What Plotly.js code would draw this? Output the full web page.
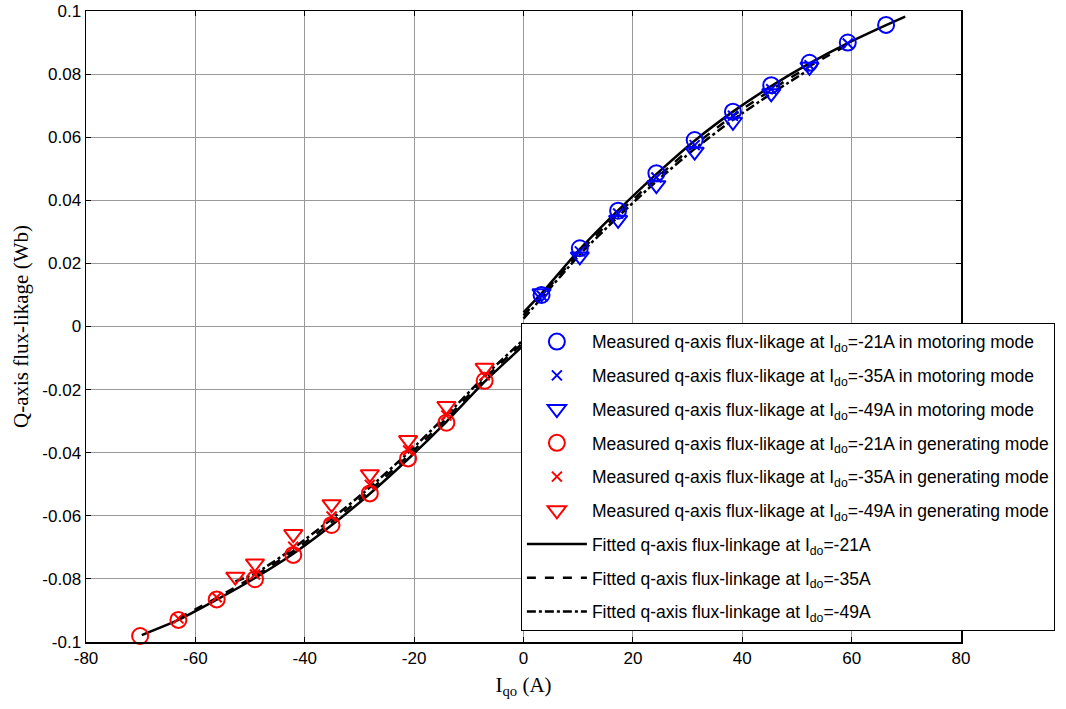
<!DOCTYPE html>
<html>
<head>
<meta charset="utf-8">
<script src="https://cdn.plot.ly/plotly-3.0.1.min.js"></script>
<style>html,body{margin:0;padding:0;background:#fff;}#chart{width:1066px;height:709px;}</style>
</head>
<body>
<div id="chart"></div>
<script>
// ---- measured data, motoring mode (Iqo > 0) ----
const motX21 = [3.3, 10.3, 17.3, 24.3, 31.3, 38.3, 45.3, 52.3, 59.3, 66.3];
const motY21 = [0.0100, 0.0248, 0.0367, 0.0486, 0.0591, 0.0681, 0.0765, 0.0836, 0.0900, 0.0956];
const motX35 = [3.3, 10.3, 17.3, 24.3, 31.3, 38.3, 45.3, 52.3, 59.3];
const motY35 = [0.0098, 0.0238, 0.0358, 0.0472, 0.0575, 0.0668, 0.0752, 0.0828, 0.0897];
const motX49 = [3.3, 10.3, 17.3, 24.3, 31.3, 38.3, 45.3, 52.3];
const motY49 = [0.0105, 0.0222, 0.0338, 0.0448, 0.0554, 0.0649, 0.0739, 0.0823];

// ---- measured data, generating mode (Iqo < 0) ----
const genX21 = [-70.1, -63.1, -56.1, -49.1, -42.1, -35.1, -28.1, -21.1, -14.1, -7.1];
const genY21 = [-0.0981, -0.0930, -0.0865, -0.0801, -0.0724, -0.0629, -0.0529, -0.0418, -0.0305, -0.0172];
const genX35 = [-63.1, -56.1, -49.1, -42.1, -35.1, -28.1, -21.1, -14.1, -7.1];
const genY35 = [-0.0925, -0.0858, -0.0786, -0.0698, -0.0602, -0.0502, -0.0393, -0.0282, -0.0155];
const genX49 = [-52.7, -49.1, -42.1, -35.1, -28.1, -21.1, -14.1, -7.1];
const genY49 = [-0.0793, -0.0751, -0.0658, -0.0563, -0.0468, -0.0360, -0.0252, -0.0131];

// ---- fitted curves ----
const fitMotX21 = [0, 3.3, 10.3, 17.3, 24.3, 31.3, 38.3, 45.3, 52.3, 59.3, 66.3, 69.8];
const fitMotY21 = [0.0045, 0.0105, 0.0245, 0.0368, 0.0483, 0.0589, 0.0681, 0.0762, 0.0834, 0.0898, 0.0955, 0.0982];
const fitGenX21 = [-69.8, -63.1, -56.1, -49.1, -42.1, -35.1, -28.1, -21.1, -14.1, -7.1, 0];
const fitGenY21 = [-0.0978, -0.0930, -0.0866, -0.0797, -0.0720, -0.0630, -0.0530, -0.0420, -0.0302, -0.0175, -0.0060];
const fitMotX35 = [0, 3.3, 10.3, 17.3, 24.3, 31.3, 38.3, 45.3, 52.3, 59.3];
const fitMotY35 = [0.0035, 0.0098, 0.0236, 0.0358, 0.0470, 0.0575, 0.0668, 0.0750, 0.0825, 0.0893];
const fitGenX35 = [-63.1, -56.1, -49.1, -42.1, -35.1, -28.1, -21.1, -14.1, -7.1, 0];
const fitGenY35 = [-0.0925, -0.0860, -0.0790, -0.0712, -0.0620, -0.0520, -0.0410, -0.0292, -0.0165, -0.0050];
const fitMotX49 = [0, 3.3, 10.3, 17.3, 24.3, 31.3, 38.3, 45.3, 52.3];
const fitMotY49 = [0.0025, 0.0090, 0.0228, 0.0348, 0.0460, 0.0563, 0.0655, 0.0738, 0.0815];
const fitGenX49 = [-52.7, -49.1, -42.1, -35.1, -28.1, -21.1, -14.1, -7.1, 0];
const fitGenY49 = [-0.0808, -0.0783, -0.0703, -0.0610, -0.0510, -0.0400, -0.0282, -0.0157, -0.0042];

// ---- labels and ticks ----
const legendNames = [
  'Measured q-axis flux-likage at I<sub>do</sub>=-21A in motoring mode',
  'Measured q-axis flux-likage at I<sub>do</sub>=-35A in motoring mode',
  'Measured q-axis flux-likage at I<sub>do</sub>=-49A in motoring mode',
  'Measured q-axis flux-likage at I<sub>do</sub>=-21A in generating mode',
  'Measured q-axis flux-likage at I<sub>do</sub>=-35A in generating mode',
  'Measured q-axis flux-likage at I<sub>do</sub>=-49A in generating mode',
  'Fitted q-axis flux-linkage at I<sub>do</sub>=-21A',
  'Fitted q-axis flux-linkage at I<sub>do</sub>=-35A',
  'Fitted q-axis flux-linkage at I<sub>do</sub>=-49A'
];
const xTickVals = [-80, -60, -40, -20, 0, 20, 40, 60, 80];
const xTickText = ['-80', '-60', '-40', '-20', '0', '20', '40', '60', '80'];
const yTickVals = [-0.1, -0.08, -0.06, -0.04, -0.02, 0, 0.02, 0.04, 0.06, 0.08, 0.1];
const yTickText = ['-0.1', '-0.08', '-0.06', '-0.04', '-0.02', '0', '0.02', '0.04', '0.06', '0.08', '0.1'];

const BLUE = '#0000ff', RED = '#ff0000';

function markerTrace(x, y, name, color, symbol, size, group) {
  return {
    type: 'scatter', mode: 'markers', x: x, y: y, name: name,
    legendgroup: group,
    marker: {symbol: symbol, size: size, color: color, line: {color: color, width: 2}},
    cliponaxis: false
  };
}
function joinSeg(a, b) { return a.concat([null], b); }
function lineTrace(xg, yg, xm, ym, name, dash, group) {
  return {
    type: 'scatter', mode: 'lines', x: joinSeg(xg, xm), y: joinSeg(yg, ym), name: name,
    legendgroup: group, connectgaps: false,
    line: {color: '#000', width: 2.5, dash: dash, shape: 'spline', smoothing: 0.6}
  };
}

const traces = [
  lineTrace(fitGenX21, fitGenY21, fitMotX21, fitMotY21, legendNames[6], 'solid', 'g7'),
  lineTrace(fitGenX35, fitGenY35, fitMotX35, fitMotY35, legendNames[7], 'dash', 'g8'),
  lineTrace(fitGenX49, fitGenY49, fitMotX49, fitMotY49, legendNames[8], 'dashdot', 'g9'),
  markerTrace(motX21, motY21, legendNames[0], BLUE, 'circle-open', 16, 'g1'),
  markerTrace(motX35, motY35, legendNames[1], BLUE, 'x-thin-open', 10, 'g2'),
  markerTrace(motX49, motY49, legendNames[2], BLUE, 'triangle-down-open', 16, 'g3'),
  markerTrace(genX21, genY21, legendNames[3], RED, 'circle-open', 16, 'g4'),
  markerTrace(genX35, genY35, legendNames[4], RED, 'x-thin-open', 10, 'g5'),
  markerTrace(genX49, genY49, legendNames[5], RED, 'triangle-down-open', 16, 'g6')
];
traces.forEach((t, i) => { t.legendrank = i < 3 ? 7 + i : i - 2; });

const axisCommon = {
  showline: true, linecolor: '#000', linewidth: 1.5, mirror: 'ticks',
  ticks: 'inside', ticklen: 5, tickcolor: '#000', tickwidth: 1,
  showgrid: true, gridcolor: '#9a9a9a', gridwidth: 1, zeroline: false,
  tickfont: {family: 'Liberation Sans, Arial, sans-serif', size: 17, color: '#000'}
};

const layout = {
  width: 1066, height: 709,
  margin: {l: 86, r: 105, t: 11, b: 67},
  paper_bgcolor: '#fff', plot_bgcolor: '#fff',
  showlegend: true,
  xaxis: Object.assign({}, axisCommon, {
    range: [-80, 80], tickvals: xTickVals, ticktext: xTickText,
    title: {text: 'I<sub>qo</sub> (A)', standoff: 10,
            font: {family: 'Liberation Serif, Times New Roman, serif', size: 21, color: '#000'}}
  }),
  yaxis: Object.assign({}, axisCommon, {
    range: [-0.1, 0.1], tickvals: yTickVals, ticktext: yTickText,
    title: {text: 'Q-axis flux-likage (Wb)', standoff: 8,
            font: {family: 'Liberation Serif, Times New Roman, serif', size: 21, color: '#000'}}
  }),
  legend: {
    x: 0.497, y: 0.506, xanchor: 'left', yanchor: 'top',
    bgcolor: '#fff', bordercolor: '#000', borderwidth: 1,
    font: {family: 'Liberation Sans, Arial, sans-serif', size: 17.5, color: '#000'},
    tracegroupgap: 8, itemwidth: 60, traceorder: 'grouped'
  }
};

Plotly.newPlot('chart', traces, layout, {displayModeBar: false, staticPlot: true});
</script>
</body>
</html>
